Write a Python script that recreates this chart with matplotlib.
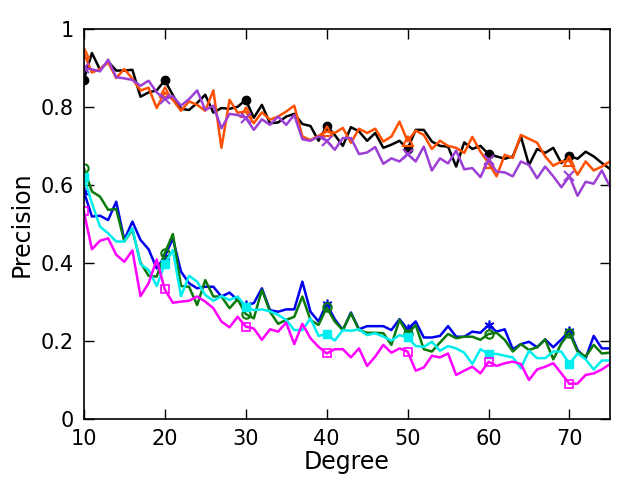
import matplotlib
matplotlib.use("Agg")
import matplotlib.pyplot as plt
import numpy as np

degree = np.arange(10, 76)

black = [0.869, 0.938, 0.895, 0.916, 0.893, 0.893, 0.895, 0.826, 0.837, 0.842,
         0.868, 0.83, 0.795, 0.792, 0.81, 0.831, 0.785, 0.797, 0.795, 0.80,
         0.818, 0.772, 0.805, 0.758, 0.76, 0.775, 0.782, 0.756, 0.751, 0.713,
         0.751, 0.728, 0.70, 0.748, 0.737, 0.713, 0.733, 0.695, 0.703, 0.713,
         0.692, 0.741, 0.741, 0.711, 0.70, 0.698, 0.647, 0.709, 0.692, 0.70,
         0.679, 0.673, 0.667, 0.673, 0.724, 0.651, 0.692, 0.682, 0.695, 0.656,
         0.674, 0.667, 0.685, 0.673, 0.656, 0.641]
orange = [0.938, 0.888, 0.897, 0.914, 0.874, 0.897, 0.872, 0.842, 0.849, 0.797,
          0.837, 0.818, 0.79, 0.814, 0.805, 0.79, 0.842, 0.695, 0.818, 0.785,
          0.788, 0.758, 0.786, 0.767, 0.775, 0.788, 0.803, 0.724, 0.715, 0.726,
          0.737, 0.733, 0.746, 0.708, 0.744, 0.733, 0.744, 0.711, 0.724, 0.762,
          0.712, 0.739, 0.728, 0.692, 0.713, 0.70, 0.695, 0.682, 0.723, 0.685,
          0.656, 0.622, 0.677, 0.669, 0.728, 0.718, 0.708, 0.673, 0.649, 0.66,
          0.662, 0.626, 0.66, 0.637, 0.647, 0.66]
purple = [0.899, 0.896, 0.891, 0.921, 0.876, 0.873, 0.869, 0.854, 0.867, 0.837,
          0.82, 0.827, 0.803, 0.82, 0.842, 0.792, 0.803, 0.745, 0.782, 0.779,
          0.772, 0.741, 0.768, 0.754, 0.775, 0.754, 0.779, 0.717, 0.713, 0.724,
          0.713, 0.69, 0.72, 0.72, 0.679, 0.683, 0.697, 0.654, 0.668, 0.66,
          0.679, 0.66, 0.698, 0.637, 0.668, 0.655, 0.688, 0.64, 0.643, 0.62,
          0.664, 0.634, 0.632, 0.622, 0.66, 0.651, 0.617, 0.647, 0.622, 0.594,
          0.622, 0.572, 0.608, 0.603, 0.637, 0.596]
blue = [0.583, 0.519, 0.521, 0.51, 0.557, 0.459, 0.506, 0.459, 0.435, 0.386,
        0.416, 0.463, 0.378, 0.348, 0.335, 0.339, 0.339, 0.314, 0.324, 0.305,
        0.292, 0.297, 0.335, 0.279, 0.275, 0.281, 0.281, 0.352, 0.275, 0.25,
        0.295, 0.256, 0.228, 0.273, 0.23, 0.238, 0.238, 0.238, 0.228, 0.256,
        0.23, 0.25, 0.209, 0.209, 0.213, 0.238, 0.211, 0.211, 0.224, 0.221,
        0.241, 0.224, 0.23, 0.179, 0.192, 0.198, 0.184, 0.204, 0.184, 0.204,
        0.226, 0.177, 0.156, 0.213, 0.181, 0.181]
green = [0.643, 0.583, 0.57, 0.536, 0.538, 0.455, 0.485, 0.401, 0.367, 0.365,
         0.425, 0.474, 0.341, 0.339, 0.292, 0.356, 0.314, 0.314, 0.284, 0.307,
         0.269, 0.258, 0.331, 0.275, 0.244, 0.254, 0.262, 0.314, 0.254, 0.241,
         0.286, 0.25, 0.228, 0.271, 0.228, 0.221, 0.221, 0.22, 0.19, 0.254,
         0.218, 0.241, 0.179, 0.173, 0.196, 0.218, 0.207, 0.211, 0.211, 0.203,
         0.218, 0.221, 0.203, 0.173, 0.192, 0.177, 0.184, 0.204, 0.153, 0.194,
         0.221, 0.173, 0.16, 0.19, 0.168, 0.17]
cyan = [0.62, 0.553, 0.493, 0.476, 0.455, 0.455, 0.489, 0.397, 0.382, 0.341,
        0.397, 0.433, 0.315, 0.367, 0.352, 0.318, 0.303, 0.315, 0.305, 0.314,
        0.288, 0.279, 0.281, 0.276, 0.267, 0.254, 0.228, 0.228, 0.258, 0.213,
        0.218, 0.201, 0.228, 0.226, 0.23, 0.215, 0.22, 0.211, 0.201, 0.215,
        0.209, 0.187, 0.185, 0.198, 0.175, 0.187, 0.181, 0.17, 0.141, 0.179,
        0.167, 0.167, 0.162, 0.158, 0.13, 0.175, 0.156, 0.156, 0.173, 0.173,
        0.141, 0.168, 0.153, 0.127, 0.15, 0.15]
magenta = [0.532, 0.435, 0.457, 0.463, 0.421, 0.403, 0.432, 0.315, 0.348, 0.409,
           0.332, 0.298, 0.301, 0.303, 0.314, 0.301, 0.284, 0.25, 0.235, 0.262,
           0.237, 0.232, 0.203, 0.23, 0.224, 0.247, 0.192, 0.244, 0.207, 0.185,
           0.168, 0.179, 0.179, 0.158, 0.181, 0.136, 0.16, 0.19, 0.17, 0.181,
           0.173, 0.124, 0.132, 0.162, 0.158, 0.168, 0.113, 0.124, 0.134, 0.117,
           0.147, 0.136, 0.143, 0.147, 0.141, 0.10, 0.127, 0.134, 0.143, 0.117,
           0.09, 0.091, 0.113, 0.117, 0.127, 0.141]

asterisk = (6, 2, 0)

fig = plt.figure(figsize=(6.4, 4.8), dpi=100)
ax = fig.add_axes([0.131, 0.127, 0.822, 0.813])

lw = 1.8
ax.plot(degree, black, color="black", lw=lw, marker="o", ms=6, markevery=10)
ax.plot(degree, orange, color="#ff4f00", lw=lw, marker="^", ms=7, mfc="none",
        mew=1.5, markevery=10)
ax.plot(degree, purple, color="#9b3fd6", lw=lw, marker="x", ms=7, mew=1.5,
        markevery=10)
ax.plot(degree, blue, color="#0000ee", lw=lw, marker=asterisk, ms=7, mew=1.2,
        markevery=10)
ax.plot(degree, green, color="#0a7a0a", lw=lw, marker="o", ms=6, mfc="none",
        mew=1.5, markevery=10)
ax.plot(degree, cyan, color="#00eeee", lw=lw, marker="s", ms=6, markevery=10)
ax.plot(degree, magenta, color="#ff00ff", lw=lw, marker="s", ms=6, mfc="none",
        mew=1.2, markevery=10)

ax.set_xlim(10, 75)
ax.set_ylim(0, 1)
ax.set_xticks([10, 20, 30, 40, 50, 60, 70])
ax.set_yticks([0, 0.2, 0.4, 0.6, 0.8, 1])
ax.set_yticklabels(["0", "0.2", "0.4", "0.6", "0.8", "1"])
ax.tick_params(direction="in", top=True, right=True, length=7, width=1,
               labelsize=15, pad=7)
for s in ax.spines.values():
    s.set_linewidth(1.2)
ax.set_xlabel("Degree", fontsize=17, labelpad=1)
ax.set_ylabel("Precision", fontsize=17, labelpad=5)

fig.savefig("out.png", dpi=100)
